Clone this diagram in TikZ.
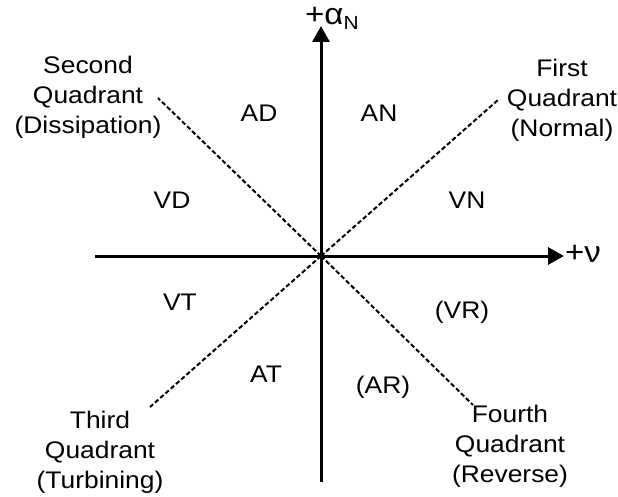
\documentclass[tikz,border=0pt]{standalone}
\usepackage{fontspec}
\setmainfont{Liberation Sans}[FakeStretch=1.1]
\usetikzlibrary{arrows.meta}
\begin{document}
\begin{tikzpicture}[x=1pt,y=-1pt,
  axis/.style={line width=3pt,-{Triangle[length=16pt,width=17pt]}},
  diag/.style={line width=2pt,dash pattern=on 4.5pt off 2.5pt},
  lbl/.style={font=\fontsize{24}{30}\selectfont,inner sep=0pt,align=center},
  big/.style={font=\fontsize{30}{30}\selectfont,inner sep=0pt},
]
\useasboundingbox (0,0) rectangle (618,497);
\coordinate (o) at (321,256);
\coordinate (bot) at (321,482);
\coordinate (top) at (321,26);
\coordinate (lft) at (95,256);
\coordinate (rgt) at (564,256);
\coordinate (ul) at (158,98);
\coordinate (ur) at (498,100);
\coordinate (ll) at (150,407);
\coordinate (lr) at (473,405);
\draw[diag] (o) -- (ul);
\draw[diag] (o) -- (ur);
\draw[diag] (o) -- (ll);
\draw[diag] (o) -- (lr);
\draw[axis] (bot) -- (top);
\draw[axis] (lft) -- (rgt);
\node[big,anchor=west] (alpha) at (305,18) {+α\raisebox{-0.3ex}{\fontsize{19}{19}\selectfont N}};
\node[big,anchor=west] (nu) at (565,254) {+ν};
\node[lbl] (q2) at (88,97) {Second\\Quadrant\\(Dissipation)};
\node[lbl] (q1) at (562,100) {First\\Quadrant\\(Normal)};
\node[lbl] (q3) at (100,452) {Third\\Quadrant\\(Turbining)};
\node[lbl] (q4) at (510,446) {Fourth\\Quadrant\\(Reverse)};
\node[lbl] (ad) at (259,113) {AD};
\node[lbl] (an) at (379,113) {AN};
\node[lbl] (vd) at (172,200) {VD};
\node[lbl] (vn) at (467,200) {VN};
\node[lbl] (vt) at (180,302) {VT};
\node[lbl] (vr) at (462,312) {(VR)};
\node[lbl] (at) at (266,374) {AT};
\node[lbl] (ar) at (383,387) {(AR)};
\end{tikzpicture}
\end{document}
